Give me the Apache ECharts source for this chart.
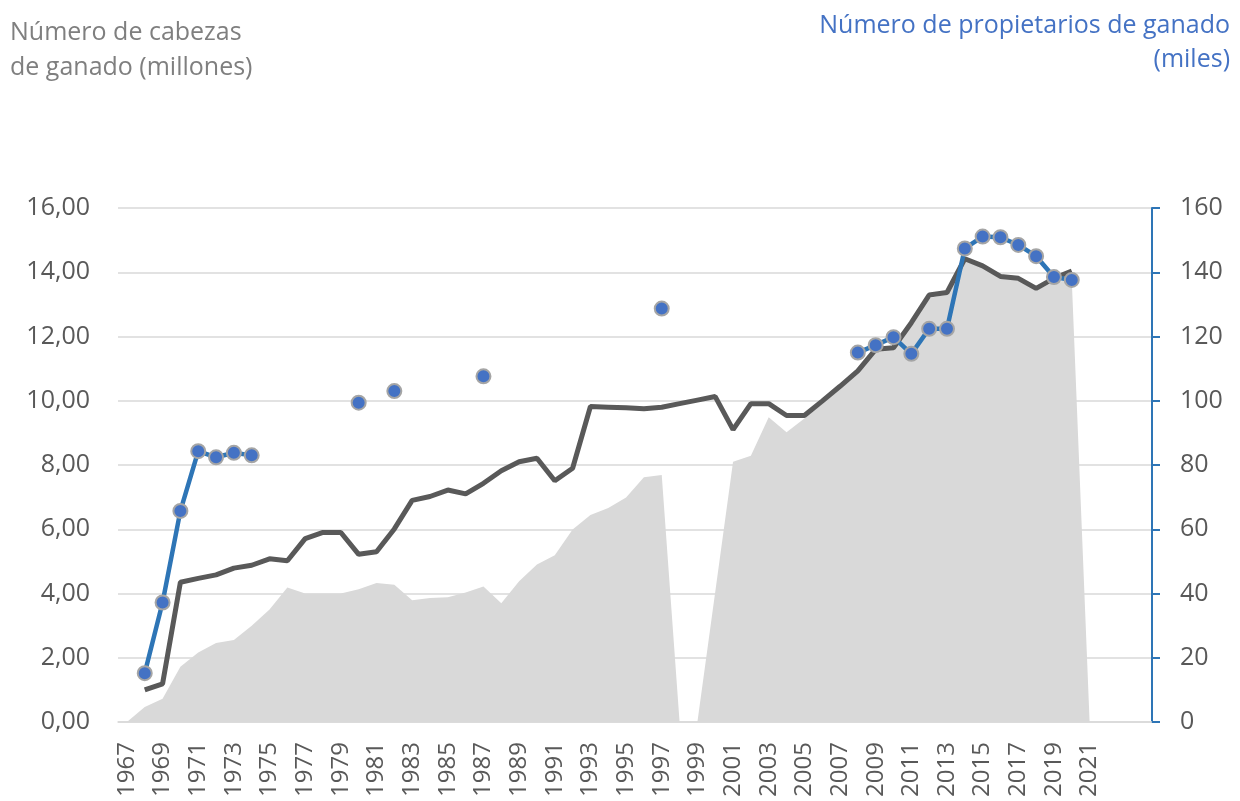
<!DOCTYPE html>
<html>
<head>
<meta charset="utf-8">
<script src="https://cdn.jsdelivr.net/npm/echarts@6/dist/echarts.min.js"></script>
<style>
  html, body { margin: 0; padding: 0; background: #fff; }
  #chart { width: 1240px; height: 801px; }
</style>
</head>
<body>
<div id="chart"></div>
<script>
// ---- data ----
const years = [];
for (let y = 1967; y <= 2024; y++) years.push(String(y));

// grey area (left axis, millions)
const areaValues = [
  0, 0.47, 0.72, 1.72, 2.16, 2.46, 2.55, 3.0, 3.5, 4.19,      // 1967-1976
  4.0, 4.0, 4.0, 4.13, 4.33, 4.27, 3.79, 3.86, 3.88, 4.03,    // 1977-1986
  4.22, 3.70, 4.38, 4.90, 5.19, 5.99, 6.44, 6.66, 6.99, 7.62, // 1987-1996
  7.69, 0, 0, 4.05, 8.10, 8.29, 9.49, 9.02, 9.45, 9.90,       // 1997-2006
  10.40, 10.85, 11.55, 11.60, 12.35, 13.20, 13.30, 14.35, 14.15, 13.80, // 2007-2016
  13.75, 13.45, 13.70, 13.76, 0, null, null, null             // 2017-2024
];

// cattle heads (left axis, millions)
const cattleHeads = [
  null, 1.00, 1.19, 4.35, 4.47, 4.58, 4.79, 4.88, 5.08, 5.02,   // 1967-1976
  5.71, 5.90, 5.90, 5.22, 5.30, 6.01, 6.90, 7.02, 7.22, 7.10,   // 1977-1986
  7.43, 7.82, 8.10, 8.21, 7.51, 7.90, 9.82, 9.80, 9.78, 9.75,   // 1987-1996
  9.80, 9.91, 10.02, 10.13, 9.10, 9.91, 9.91, 9.54, 9.54, 9.99, // 1997-2006
  10.45, 10.93, 11.60, 11.65, 12.43, 13.29, 13.37, 14.42, 14.20, 13.87, // 2007-2016
  13.81, 13.50, 13.81, 14.04, null, null, null, null            // 2017-2024
];

// cattle owners (right axis, thousands)
const cattleOwners = [
  null, 15.2, 37.2, 65.7, 84.3, 82.4, 83.8, 83.0, null, null,   // 1967-1976
  null, null, null, 99.4, null, 103.0, null, null, null, null,  // 1977-1986
  107.6, null, null, null, null, null, null, null, null, null,  // 1987-1996
  128.7, null, null, null, null, null, null, null, null, null,  // 1997-2006
  null, 115.0, 117.3, 119.8, 114.6, 122.4, 122.4, 147.4, 151.1, 150.9, // 2007-2016
  148.5, 145.0, 138.5, 137.6, null, null, null, null            // 2017-2024
];

const leftTitle = ['Número de cabezas', 'de ganado (millones)'];
const rightTitle = ['Número de propietarios de ganado', '(miles)'];
const lastLabelYear = 2021;

// ---- chart ----
const FONT = '"Open Sans", "Liberation Sans", sans-serif';
const chart = echarts.init(document.getElementById('chart'), null, { renderer: 'canvas' });

chart.setOption({
  animation: false,
  backgroundColor: '#ffffff',
  grid: { left: 118, right: 88, top: 208, bottom: 79, containLabel: false },
  graphic: [
    { type: 'text', left: 10, top: 20, style: { text: leftTitle[0], font: '25px ' + FONT, fill: '#7F7F7F' } },
    { type: 'text', left: 10, top: 55, style: { text: leftTitle[1], font: '25px ' + FONT, fill: '#7F7F7F' } },
    { type: 'text', right: 10, top: 13, style: { text: rightTitle[0], font: '25px ' + FONT, fill: '#4472C4' } },
    { type: 'text', right: 10, top: 47, style: { text: rightTitle[1], font: '25px ' + FONT, fill: '#4472C4' } }
  ],
  xAxis: {
    type: 'category',
    data: years,
    boundaryGap: true,
    axisLine: { show: true, lineStyle: { color: '#D9D9D9', width: 1.5 } },
    axisTick: { show: false },
    splitLine: { show: false },
    axisLabel: {
      rotate: 90,
      margin: 20,
      color: '#595959',
      fontSize: 24,
      fontFamily: FONT,
      interval: function (idx, val) {
        const y = +val;
        return (y - 1967) % 2 === 0 && y <= lastLabelYear;
      }
    }
  },
  yAxis: [
    {
      type: 'value',
      min: 0, max: 16, interval: 2,
      position: 'left',
      axisLine: { show: false },
      axisTick: { show: false },
      splitLine: { show: true, lineStyle: { color: '#D9D9D9', width: 1.5 } },
      axisLabel: {
        margin: 28,
        color: '#595959',
        fontSize: 25,
        fontFamily: FONT,
        formatter: v => v.toFixed(2).replace('.', ',')
      }
    },
    {
      type: 'value',
      min: 0, max: 160, interval: 20,
      position: 'right',
      axisLine: { show: true, lineStyle: { color: '#2E75B6', width: 2 } },
      axisTick: { show: true, inside: false, length: 8, lineStyle: { color: '#2E75B6', width: 2 } },
      splitLine: { show: false },
      axisLabel: {
        margin: 28,
        color: '#595959',
        fontSize: 25,
        fontFamily: FONT
      }
    }
  ],
  series: [
    {
      name: 'area',
      type: 'line',
      yAxisIndex: 0,
      data: areaValues,
      symbol: 'none',
      lineStyle: { width: 0 },
      areaStyle: { color: '#D9D9D9', opacity: 1 },
      z: 1
    },
    {
      name: 'Número de cabezas de ganado (millones)',
      type: 'line',
      yAxisIndex: 0,
      data: cattleHeads,
      symbol: 'none',
      lineStyle: { color: '#595959', width: 5 },
      z: 2
    },
    {
      name: 'Número de propietarios de ganado (miles)',
      type: 'line',
      yAxisIndex: 1,
      data: cattleOwners,
      connectNulls: false,
      symbol: 'circle',
      symbolSize: 14,
      showAllSymbol: true,
      lineStyle: { color: '#2E75B6', width: 4.5 },
      itemStyle: { color: '#4472C4', borderColor: '#A5A5A5', borderWidth: 2 },
      z: 3
    }
  ]
});
</script>
</body>
</html>
